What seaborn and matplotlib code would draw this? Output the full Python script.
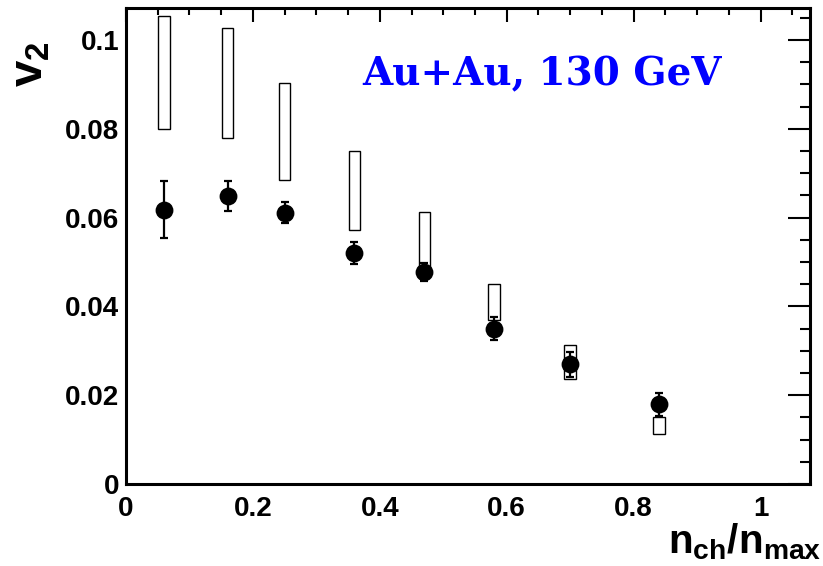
import matplotlib
matplotlib.use("Agg")
import matplotlib.pyplot as plt
from matplotlib.ticker import MultipleLocator
import seaborn as sns
import pandas as pd

# ---- data ----
nch_frac = [0.06, 0.16, 0.25, 0.36, 0.47, 0.58, 0.70, 0.84]
v2 = [0.0618, 0.0649, 0.0611, 0.0520, 0.0477, 0.0350, 0.0270, 0.0180]
v2_err = [0.0065, 0.0034, 0.0024, 0.0025, 0.0020, 0.0025, 0.0028, 0.0026]
box_low = [0.0800, 0.0780, 0.0685, 0.0571, 0.0485, 0.0370, 0.0237, 0.0113]
box_high = [0.1053, 0.1028, 0.0902, 0.0751, 0.0613, 0.0451, 0.0313, 0.0150]
label_text = "Au+Au, 130 GeV"

df = pd.DataFrame({"x": nch_frac, "v2": v2, "err": v2_err,
                   "lo": box_low, "hi": box_high})

sns.set_theme(style="white")
plt.rcParams["font.family"] = ["Liberation Sans", "DejaVu Sans"]
plt.rcParams["mathtext.fontset"] = "custom"
plt.rcParams["mathtext.bf"] = "Liberation Sans:bold"
plt.rcParams["mathtext.rm"] = "Liberation Sans:bold"
plt.rcParams["mathtext.it"] = "Liberation Sans:bold"
plt.rcParams["text.color"] = "black"
plt.rcParams["xtick.labelcolor"] = "black"
plt.rcParams["ytick.labelcolor"] = "black"

fig = plt.figure(figsize=(8.23, 5.66), dpi=100)
ax = fig.add_axes([126 / 823, 1 - 484 / 566, (810 - 126) / 823, (484 - 8) / 566])

# systematic boxes
ax.bar(df["x"], df["hi"] - df["lo"], bottom=df["lo"], width=0.018,
       facecolor="white", edgecolor="black", linewidth=1.0, zorder=2)

# error bars
ax.errorbar(df["x"], df["v2"], yerr=df["err"], fmt="none", ecolor="black",
            elinewidth=1.6, capsize=3.0, capthick=1.6, zorder=3)

# points
sns.scatterplot(data=df, x="x", y="v2", ax=ax, color="black", s=165,
                marker="o", edgecolor="black", linewidth=0, zorder=4, legend=False)

ax.set_xlim(0, 1.078)
ax.set_ylim(0, 0.1072)
ax.set_xlabel("")
ax.set_ylabel("")

ax.xaxis.set_minor_locator(MultipleLocator(0.05))
ax.yaxis.set_minor_locator(MultipleLocator(0.005))
ax.set_xticks([0, 0.2, 0.4, 0.6, 0.8, 1.0])
ax.set_xticklabels(["0", "0.2", "0.4", "0.6", "0.8", "1"])
ax.set_yticks([0, 0.02, 0.04, 0.06, 0.08, 0.1])
ax.set_yticklabels(["0", "0.02", "0.04", "0.06", "0.08", "0.1"])

for s in ax.spines.values():
    s.set_linewidth(2.2)
    s.set_color("black")

ax.tick_params(axis="both", which="both", direction="in", top=True, right=True,
               color="black", width=1.5, labelcolor="black")
ax.tick_params(axis="x", which="major", length=10, pad=9, labelsize=20)
ax.tick_params(axis="x", which="minor", length=4.8)
ax.tick_params(axis="y", which="major", length=15.5, pad=5, labelsize=20)
ax.tick_params(axis="y", which="minor", length=7.2)
for lab in ax.get_xticklabels() + ax.get_yticklabels():
    lab.set_fontweight("bold")

# axis titles
fig.text(821 / 823, 1 - 553 / 566, r"$\mathbf{n_{ch}/n_{max}}$", ha="right",
         va="baseline", fontsize=29, color="black")
fig.text(31 / 823, 1 - 41 / 566, r"$\mathbf{v_{2}}$", rotation=90, ha="center",
         va="top", fontsize=34, color="black")

# annotation
fig.text(362 / 823, 1 - 85 / 566, label_text, ha="left", va="baseline",
         fontsize=28, color="#0000FF", family="DejaVu Serif", fontweight="bold")

fig.savefig("out.png", dpi=100)
